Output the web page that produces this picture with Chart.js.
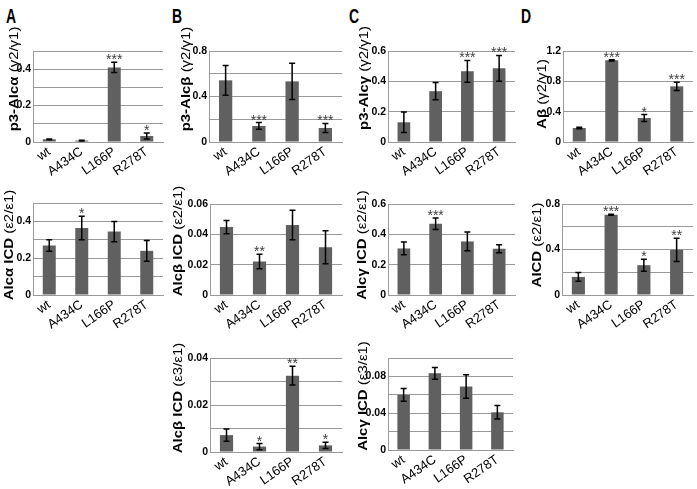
<!DOCTYPE html>
<html>
<head>
<meta charset="utf-8">
<title>Alc / APP cleavage ratios</title>
<script src="https://cdn.jsdelivr.net/npm/chart.js"></script>
<style>
  body { margin: 0; background: #fff; }
  #page { position: relative; width: 697px; height: 489px; overflow: hidden; }
  canvas { position: absolute; }
  .letter { position: absolute; font: bold 14px Arial, "Liberation Sans", sans-serif; line-height: 14px; color: #000;
            transform: scaleY(1.5); transform-origin: 0 0; }
</style>
</head>
<body>
<div id="page">
  <div class="letter" style="left:6px;top:5px">A</div>
  <div class="letter" style="left:172px;top:5px">B</div>
  <div class="letter" style="left:349px;top:5px">C</div>
  <div class="letter" style="left:521px;top:5px">D</div>
</div>
<script>
// data
const categories = ['wt', 'A434C', 'L166P', 'R278T'];

const p3AlcAlpha = [0.015, 0.008, 0.41, 0.033];
const p3AlcAlphaErr = [0.002, 0.002, 0.028, 0.017];
const p3AlcAlphaStars = ['', '', '***', '*'];
const p3AlcAlphaTicks = ['0', '0.2', '0.4'];

const p3AlcBeta = [0.542, 0.141, 0.533, 0.123];
const p3AlcBetaErr = [0.13, 0.03, 0.16, 0.04];
const p3AlcBetaStars = ['', '***', '', '***'];
const p3AlcBetaTicks = ['0', '0.4', '0.8'];

const p3AlcGamma = [0.13, 0.335, 0.466, 0.486];
const p3AlcGammaErr = [0.068, 0.057, 0.072, 0.085];
const p3AlcGammaStars = ['', '', '***', '***'];
const p3AlcGammaTicks = ['0', '0.2', '0.4', '0.6'];

const abeta = [0.185, 1.077, 0.316, 0.734];
const abetaErr = [0.01, 0.008, 0.045, 0.055];
const abetaStars = ['', '***', '*', '***'];
const abetaTicks = ['0', '0.4', '0.8', '1.2'];

const alcAlphaIcd = [0.269, 0.364, 0.345, 0.24];
const alcAlphaIcdErr = [0.031, 0.064, 0.055, 0.056];
const alcAlphaIcdStars = ['', '*', '', ''];
const alcAlphaIcdTicks = ['0', '0.2', '0.4'];

const alcBetaIcd = [0.0448, 0.0221, 0.0461, 0.0315];
const alcBetaIcdErr = [0.0044, 0.0048, 0.0097, 0.0109];
const alcBetaIcdStars = ['', '**', '', ''];
const alcBetaIcdTicks = ['0', '0.02', '0.04', '0.06'];

const alcGammaIcd = [0.307, 0.47, 0.353, 0.305];
const alcGammaIcdErr = [0.042, 0.038, 0.062, 0.026];
const alcGammaIcdStars = ['', '***', '', ''];
const alcGammaIcdTicks = ['0', '0.2', '0.4', '0.6'];

const aicd = [0.159, 0.706, 0.262, 0.397];
const aicdErr = [0.038, 0.004, 0.053, 0.103];
const aicdStars = ['', '***', '*', '**'];
const aicdTicks = ['0', '0.4', '0.8'];

const alcBetaIcd3 = [0.0072, 0.0023, 0.0325, 0.0028];
const alcBetaIcd3Err = [0.0026, 0.0013, 0.004, 0.0013];
const alcBetaIcd3Stars = ['', '*', '**', '*'];
const alcBetaIcd3Ticks = ['0', '0.02', '0.04'];

const alcGammaIcd3 = [0.06, 0.0833, 0.069, 0.041];
const alcGammaIcd3Err = [0.0069, 0.0065, 0.0128, 0.0073];
const alcGammaIcd3Stars = ['', '', '', ''];
const alcGammaIcd3Ticks = ['0', '0.04', '0.08'];

// layout: plot box [left, top, right, bottom] and y-title centre, page pixels
const panels = [
  { box: [33, 51, 163, 142], max: 0.5, step: 0.1, values: p3AlcAlpha, err: p3AlcAlphaErr, stars: p3AlcAlphaStars, ticks: p3AlcAlphaTicks, title: ['p3-Alcα', ' (γ2/γ1)'], tpos: [14, 79] },
  { box: [209, 51, 342, 142], max: 0.8, step: 0.2, values: p3AlcBeta, err: p3AlcBetaErr, stars: p3AlcBetaStars, ticks: p3AlcBetaTicks, title: ['p3-Alcβ', ' (γ2/γ1)'], tpos: [186, 79] },
  { box: [388, 51, 515, 142], max: 0.6, step: 0.1, values: p3AlcGamma, err: p3AlcGammaErr, stars: p3AlcGammaStars, ticks: p3AlcGammaTicks, title: ['p3-Alcγ', ' (γ2/γ1)'], tpos: [364, 78] },
  { box: [563, 51, 693, 142], max: 1.2, step: 0.2, values: abeta, err: abetaErr, stars: abetaStars, ticks: abetaTicks, title: ['Aβ', ' (γ2/γ1)'], tpos: [542, 94] },
  { box: [33, 203, 163, 295], max: 0.5, step: 0.1, values: alcAlphaIcd, err: alcAlphaIcdErr, stars: alcAlphaIcdStars, ticks: alcAlphaIcdTicks, title: ['Alcα ICD', ' (ε2/ε1)'], tpos: [9, 245] },
  { box: [210, 204, 342, 295], max: 0.06, step: 0.01, values: alcBetaIcd, err: alcBetaIcdErr, stars: alcBetaIcdStars, ticks: alcBetaIcdTicks, title: ['Alcβ ICD', ' (ε2/ε1)'], tpos: [178, 241] },
  { box: [388, 204, 515, 295], max: 0.6, step: 0.1, values: alcGammaIcd, err: alcGammaIcdErr, stars: alcGammaIcdStars, ticks: alcGammaIcdTicks, title: ['Alcγ ICD', ' (ε2/ε1)'], tpos: [362, 245] },
  { box: [562, 204, 693, 295], max: 0.8, step: 0.2, values: aicd, err: aicdErr, stars: aicdStars, ticks: aicdTicks, title: ['AICD', ' (ε2/ε1)'], tpos: [537, 245] },
  { box: [210, 358, 342, 452], max: 0.04, step: 0.01, values: alcBetaIcd3, err: alcBetaIcd3Err, stars: alcBetaIcd3Stars, ticks: alcBetaIcd3Ticks, title: ['Alcβ ICD', ' (ε3/ε1)'], tpos: [178, 398] },
  { box: [388, 358, 513, 450], max: 0.1, step: 0.02, values: alcGammaIcd3, err: alcGammaIcd3Err, stars: alcGammaIcd3Stars, ticks: alcGammaIcd3Ticks, title: ['Alcγ ICD', ' (ε3/ε1)'], tpos: [363, 396] },
];

const PADL = 46, PADT = 25, PADR = 4, PADB = 45;
const FONT = 'Arial, "Liberation Sans", sans-serif';
const TITLE_SIZE = 13, TITLE_STRETCH = 1.15;

// error bars + significance stars
const errorBars = {
  id: 'errorBars',
  afterDatasetsDraw(chart, args, opts) {
    const ctx = chart.ctx;
    const y = chart.scales.y;
    const meta = chart.getDatasetMeta(0);
    ctx.save();
    meta.data.forEach((bar, i) => {
      const v = opts.values[i], e = opts.err[i];
      const top = y.getPixelForValue(v + e);
      const bot = y.getPixelForValue(v - e);
      ctx.strokeStyle = '#000';
      ctx.lineWidth = 1.5;
      ctx.beginPath();
      ctx.moveTo(bar.x, top); ctx.lineTo(bar.x, bot);
      ctx.moveTo(bar.x - 3, top); ctx.lineTo(bar.x + 3, top);
      ctx.moveTo(bar.x - 3, bot); ctx.lineTo(bar.x + 3, bot);
      ctx.stroke();
      if (opts.stars[i]) {
        ctx.fillStyle = '#404040';
        ctx.font = '14px ' + FONT;
        ctx.textAlign = 'center';
        ctx.textBaseline = 'alphabetic';
        ctx.fillText(opts.stars[i], bar.x, top + 2);
      }
    });
    ctx.restore();
  }
};

// rotated y title, bold name + plain ratio, stretched along its length like the source
const yTitle = {
  id: 'yTitle',
  afterDraw(chart, args, opts) {
    const ctx = chart.ctx;
    ctx.save();
    ctx.translate(opts.x, opts.y);
    ctx.rotate(-Math.PI / 2);
    ctx.scale(TITLE_STRETCH, 1);
    ctx.textBaseline = 'middle';
    ctx.textAlign = 'left';
    ctx.font = 'bold ' + TITLE_SIZE + 'px ' + FONT;
    const w1 = ctx.measureText(opts.parts[0]).width;
    ctx.font = TITLE_SIZE + 'px ' + FONT;
    const w2 = ctx.measureText(opts.parts[1]).width;
    const x = -(w1 + w2) / 2;
    ctx.fillStyle = '#000';
    ctx.font = 'bold ' + TITLE_SIZE + 'px ' + FONT;
    ctx.fillText(opts.parts[0], x, 0);
    ctx.font = TITLE_SIZE + 'px ' + FONT;
    ctx.fillText(opts.parts[1], x + w1, 0);
    ctx.restore();
  }
};

const page = document.getElementById('page');

panels.forEach(p => {
  const [l, t, r, b] = p.box;
  const cv = document.createElement('canvas');
  const cl = l - PADL, ct = t - PADT;
  cv.width = (r - l) + PADL + PADR;
  cv.height = (b - t) + PADT + PADB;
  cv.style.left = cl + 'px';
  cv.style.top = ct + 'px';
  page.appendChild(cv);

  const shown = p.ticks.map(Number);

  new Chart(cv.getContext('2d'), {
    type: 'bar',
    data: {
      labels: categories,
      datasets: [{
        data: p.values,
        backgroundColor: '#606060',
        barPercentage: 0.4,
        categoryPercentage: 1
      }]
    },
    options: {
      responsive: false,
      animation: false,
      devicePixelRatio: 1,
      layout: { padding: { top: PADT, right: PADR, left: 0, bottom: 0 } },
      plugins: {
        legend: { display: false },
        tooltip: { enabled: false },
        errorBars: { values: p.values, err: p.err, stars: p.stars },
        yTitle: { parts: p.title, x: p.tpos[0] - cl, y: p.tpos[1] - ct }
      },
      scales: {
        x: {
          grid: { display: false, drawTicks: false },
          border: { color: '#999', width: 1 },
          ticks: {
            autoSkip: false,
            minRotation: 35, maxRotation: 35, padding: 2,
            color: '#000', font: { family: FONT, size: 13 }
          },
          afterFit: s => { s.height = PADB; }
        },
        y: {
          min: 0,
          max: p.max,
          grid: { color: '#9a9a9a', drawTicks: false },
          border: { color: '#9a9a9a' },
          ticks: {
            stepSize: p.step,
            padding: 2,
            color: '#000',
            font: { family: FONT, size: 10.5, weight: 'bold' },
            callback: v => {
              const k = shown.findIndex(s => Math.abs(s - v) < 1e-9);
              return k >= 0 ? p.ticks[k] : '';
            }
          },
          afterFit: s => { s.width = PADL; }
        }
      }
    },
    plugins: [errorBars, yTitle]
  });
});
</script>
</body>
</html>
